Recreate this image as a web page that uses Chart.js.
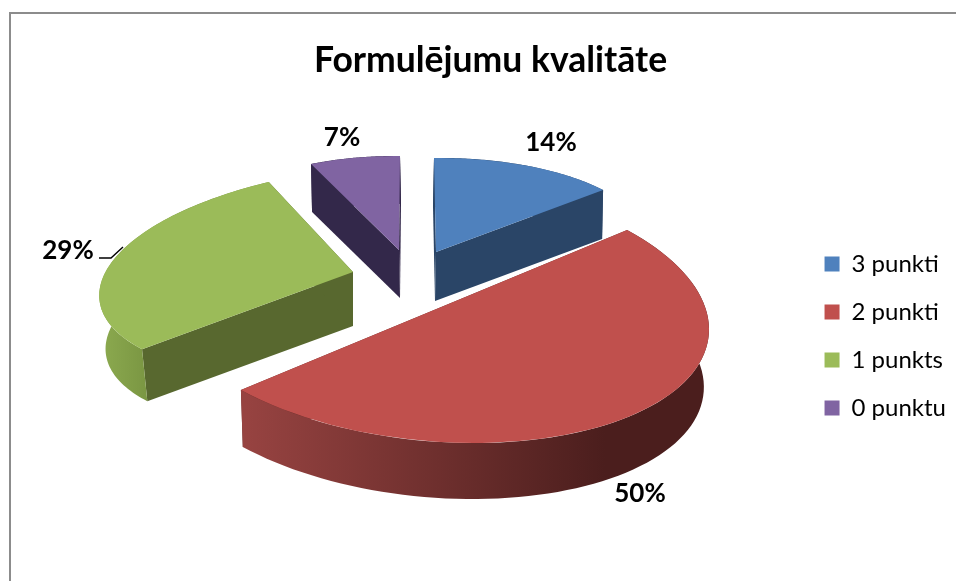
<!DOCTYPE html>
<html>
<head>
<meta charset="utf-8">
<style>
html,body{margin:0;padding:0;background:#fff;overflow:hidden;width:956px;height:581px}
#frame{position:absolute;left:9px;top:12px;width:960px;height:600px;border-left:2px solid #8c8c8c;border-top:2px solid #8c8c8c}
#wrap{position:absolute;left:25px;top:13px;width:931px;height:646px}
</style>
<script src="https://cdn.jsdelivr.net/npm/chart.js@4"></script>
</head>
<body>
<div id="frame"></div>
<div id="wrap"><canvas id="c" width="931" height="646"></canvas></div>
<script>
const titleText = "Formulējumu kvalitāte";
const categories = ["3 punkti", "2 punkti", "1 punkts", "0 punktu"];
const values = [14, 50, 29, 7];
const topColors = ["#4f81bd", "#c0504d", "#9bbb59", "#8064a2"];
const sideColors = ["#2a4567", "#652b29", "#58682f", "#33284a"];
const rimStops = [["#2a4567","#2a4567"], ["#974341","#4b1e1d"], ["#8aa84e","#7b9743"], ["#33284a","#33284a"]];
const rimRange = [[0,1],[220,580],[80,120],[0,1]];

// 3D view: pie centre on canvas, each slice's explosion offset, ground-plane matrix, depth and far-face scale
const view = {x: 409, y: 297};
const explode = [[2,-58],[0,0],[-81,-38],[-35,-60]];
const tilt = [[218.5,2,-2.8,94],[273.6,27.8,6,132.9],[252.5,-25.7,-12.9,105.5],[208.7,-1,2.3,94]];
const depth = [[-1,49,1],[-1,58,0.985],[0,54,0.975],[1,48,1]];
const labelOffset = [[117,-167],[206,184],[-366,-59],[-92,-172]];
const leader = [[-335,-52],[-323,-52],[-311,-63]];

const pie3d = {
  id: "pie3d",
  beforeDatasetDraw(chart, args) {
    const ctx = chart.ctx;
    const arcs = args.meta.data;
    arcs.forEach((arc, i) => {
      const m = tilt[i], d = depth[i];
      const ax = view.x + explode[i][0], ay = view.y + explode[i][1];
      const P = (t, low) => {
        const q = low ? d[2] : 1, dx = low ? d[0] : 0, dy = low ? d[1] : 0;
        return [ax + q*(m[0]*Math.cos(t) + m[1]*Math.sin(t)) + dx, ay + q*(m[2]*Math.cos(t) + m[3]*Math.sin(t)) + dy];
      };
      const s = arc.startAngle, e = arc.endAngle, N = 80;
      // radial faces
      ctx.fillStyle = sideColors[i];
      [s, e].forEach(t => {
        const p = P(t), r = P(t, true);
        ctx.beginPath();
        ctx.moveTo(ax, ay); ctx.lineTo(p[0], p[1]);
        ctx.lineTo(r[0], r[1]); ctx.lineTo(ax+d[0], ay+d[1]);
        ctx.closePath(); ctx.fill();
      });
      // outer rim
      const g = ctx.createLinearGradient(rimRange[i][0], 0, rimRange[i][1], 0);
      g.addColorStop(0, rimStops[i][0]); g.addColorStop(1, rimStops[i][1]);
      ctx.fillStyle = g;
      ctx.beginPath();
      for (let k = 0; k <= N; k++) { const p = P(s + (e-s)*k/N); k ? ctx.lineTo(p[0],p[1]) : ctx.moveTo(p[0],p[1]); }
      for (let k = N; k >= 0; k--) { const p = P(s + (e-s)*k/N, true); ctx.lineTo(p[0],p[1]); }
      ctx.closePath(); ctx.fill();
      // top face: the library's own arc, placed in the view
      const R = arc.outerRadius;
      const a = m[0]/R, b = m[2]/R, c = m[1]/R, dd = m[3]/R;
      ctx.save();
      ctx.transform(a, b, c, dd, ax - a*arc.x - c*arc.y, ay - b*arc.x - dd*arc.y);
      arc.draw(ctx, chart.chartArea);
      ctx.restore();
    });
    return false;
  },
  afterDraw(chart) {
    const ctx = chart.ctx;
    const total = values.reduce((p, q) => p + q, 0);
    ctx.save();
    ctx.fillStyle = "#000";
    ctx.font = "bold 26px Lato";
    ctx.textAlign = "center";
    ctx.textBaseline = "middle";
    values.forEach((v, i) => {
      ctx.fillText(Math.round(v/total*100) + "%", view.x + labelOffset[i][0], view.y + labelOffset[i][1]);
    });
    ctx.strokeStyle = "#000";
    ctx.lineWidth = 1.4;
    ctx.beginPath();
    leader.forEach((p, k) => { k ? ctx.lineTo(view.x+p[0], view.y+p[1]) : ctx.moveTo(view.x+p[0], view.y+p[1]); });
    ctx.stroke();
    ctx.restore();
  }
};

new Chart(document.getElementById("c"), {
  type: "pie",
  data: {
    labels: categories,
    datasets: [{ data: values, backgroundColor: topColors, borderWidth: 0 }]
  },
  options: {
    responsive: false,
    animation: false,
    layout: { padding: { left: 0, right: 0, top: 0, bottom: 0 } },
    plugins: {
      title: {
        display: true, text: titleText, color: "#000",
        font: { family: "Lato", weight: "bold", size: 35.5 },
        padding: { top: 26, bottom: 30 }
      },
      legend: {
        position: "right",
        labels: { boxWidth: 15, boxHeight: 15, color: "#000", padding: 24, font: { family: "Lato", size: 24 } }
      },
      tooltip: { enabled: false }
    }
  },
  plugins: [pie3d]
});
</script>
</body>
</html>
